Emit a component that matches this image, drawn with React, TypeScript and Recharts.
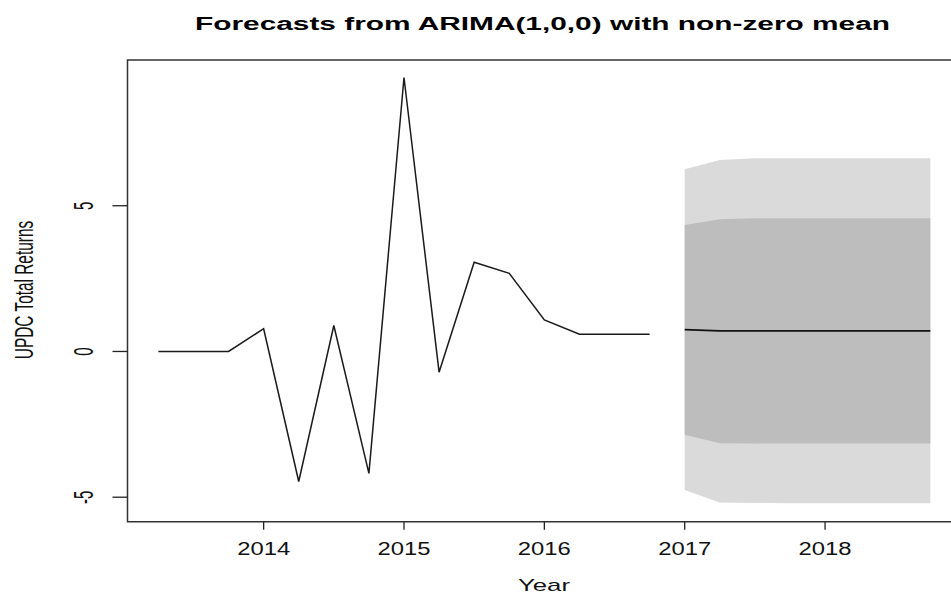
import React from 'react';
import { ComposedChart, Line, Area, XAxis, YAxis, ReferenceArea } from 'recharts';

// observed quarterly returns
const histTime = [
  2013.25, 2013.5, 2013.75, 2014, 2014.25, 2014.5, 2014.75, 2015, 2015.25, 2015.5, 2015.75, 2016, 2016.25,
  2016.5, 2016.75,
];
const histReturns = [0, 0, 0, 0.78, -4.46, 0.89, -4.18, 9.4, -0.71, 3.06, 2.68, 1.08, 0.59, 0.59, 0.59];

// ARIMA(1,0,0) forecast with 80% / 95% intervals
const fcTime = [2017, 2017.25, 2017.5, 2017.75, 2018, 2018.25, 2018.5, 2018.75];
const fcMean = [0.75, 0.71, 0.71, 0.71, 0.71, 0.71, 0.71, 0.71];
const lo80 = [-2.86, -3.15, -3.16, -3.16, -3.16, -3.16, -3.16, -3.16];
const hi80 = [4.34, 4.54, 4.57, 4.57, 4.57, 4.57, 4.57, 4.57];
const lo95 = [-4.75, -5.18, -5.2, -5.21, -5.21, -5.21, -5.21, -5.21];
const hi95 = [6.25, 6.57, 6.63, 6.63, 6.63, 6.63, 6.63, 6.63];

const yearTicks = [2014, 2015, 2016, 2017, 2018];
const returnTicks = [-5, 0, 5];

const X_DOMAIN: [number, number] = [2013.03, 2018.97];
const Y_DOMAIN: [number, number] = [-5.84, 10.0];

type Row = {
  t: number;
  hist?: number;
  mean?: number;
  band80?: [number, number];
  band95?: [number, number];
};

const data: Row[] = [
  ...histTime.map((t, i) => ({ t, hist: histReturns[i] })),
  ...fcTime.map((t, i) => ({
    t,
    mean: fcMean[i],
    band80: [lo80[i], hi80[i]] as [number, number],
    band95: [lo95[i], hi95[i]] as [number, number],
  })),
];

const FONT = '"Liberation Sans", Arial, Helvetica, sans-serif';

const YearTick = (props: any) => {
  const { x, y, payload } = props;
  return (
    <text
      x={x}
      y={y + 25.3}
      textAnchor="middle"
      fontFamily={FONT}
      fontSize={18}
      fill="#111"
      textLength={53}
      lengthAdjust="spacingAndGlyphs"
    >
      {payload.value}
    </text>
  );
};

// R draws y tick labels parallel to the axis
const ReturnTick = (props: any) => {
  const { x, y, payload } = props;
  return (
    <text
      transform={`translate(${x - 19.8},${y}) scale(1.8,1) rotate(-90)`}
      textAnchor="middle"
      fontFamily={FONT}
      fontSize={15}
      fill="#111"
    >
      {payload.value}
    </text>
  );
};

export default function App() {
  return (
    <div style={{ position: 'absolute', left: 0, top: 0, width: 951, height: 596, overflow: 'hidden', background: '#fff' }}>
      <ComposedChart
        width={980}
        height={596}
        data={data}
        margin={{ top: 60, right: 18.8, bottom: 34.3, left: 67.5 }}
      >
        <XAxis
          dataKey="t"
          type="number"
          domain={X_DOMAIN}
          ticks={yearTicks}
          allowDataOverflow
          axisLine={false}
          tickLine={{ stroke: '#222', strokeWidth: 1.3 }}
          tickSize={8}
          tickMargin={0}
          height={40}
          tick={<YearTick />}
        />
        <YAxis
          type="number"
          domain={Y_DOMAIN}
          ticks={returnTicks}
          allowDataOverflow
          axisLine={false}
          tickLine={{ stroke: '#222', strokeWidth: 1.3 }}
          tickSize={15}
          tickMargin={0}
          width={60}
          tick={<ReturnTick />}
        />
        <Area
          dataKey="band95"
          type="linear"
          fill="#dadada"
          fillOpacity={1}
          stroke="none"
          isAnimationActive={false}
        />
        <Area
          dataKey="band80"
          type="linear"
          fill="#bdbdbd"
          fillOpacity={1}
          stroke="none"
          isAnimationActive={false}
        />
        <Line
          dataKey="hist"
          type="linear"
          stroke="#1a1a1a"
          strokeWidth={1.5}
          dot={false}
          isAnimationActive={false}
        />
        <Line
          dataKey="mean"
          type="linear"
          stroke="#111"
          strokeWidth={1.8}
          dot={false}
          isAnimationActive={false}
        />
        <ReferenceArea
          x1={X_DOMAIN[0]}
          x2={X_DOMAIN[1]}
          y1={Y_DOMAIN[0]}
          y2={Y_DOMAIN[1]}
          fill="none"
          stroke="#333"
          strokeWidth={1.5}
          ifOverflow="visible"
        />
      </ComposedChart>
      <svg
        width={951}
        height={596}
        style={{ position: 'absolute', left: 0, top: 0, pointerEvents: 'none' }}
      >
        <text
          x={195}
          y={30}
          fontFamily={FONT}
          fontWeight="bold"
          fontSize={18}
          fill="#000"
          textLength={695}
          lengthAdjust="spacingAndGlyphs"
        >
          Forecasts from ARIMA(1,0,0) with non-zero mean
        </text>
        <text
          x={544}
          y={591}
          textAnchor="middle"
          fontFamily={FONT}
          fontSize={17}
          fill="#111"
          textLength={52}
          lengthAdjust="spacingAndGlyphs"
        >
          Year
        </text>
        <text
          transform="translate(33,290) scale(1.65,1) rotate(-90)"
          textAnchor="middle"
          fontFamily={FONT}
          fontSize={15.4}
          fill="#111"
        >
          UPDC Total Returns
        </text>
      </svg>
    </div>
  );
}
